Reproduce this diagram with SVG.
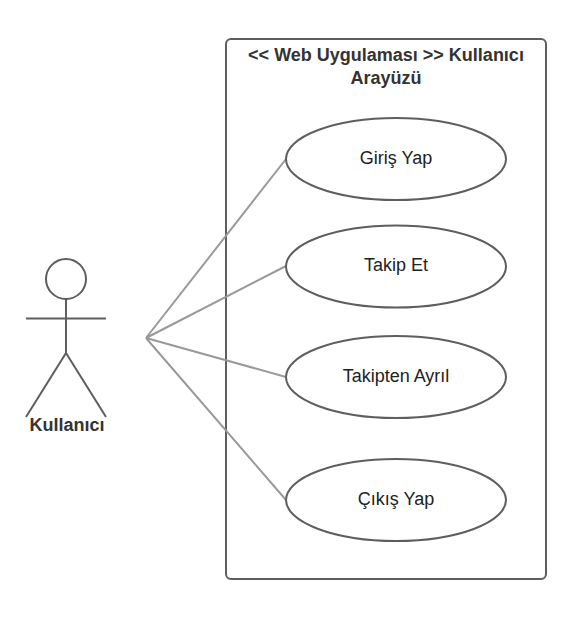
<svg xmlns="http://www.w3.org/2000/svg" width="581" height="625" viewBox="0 0 581 625">
<style>
text{font-family:"Liberation Sans",Arial,sans-serif;text-anchor:middle}
.l{font-size:18px;fill:#222}
.b{font-size:18px;font-weight:bold;fill:#333}
.s{fill:#fff;stroke:#5e5e5e;stroke-width:2}
.a{fill:none;stroke:#5e5e5e;stroke-width:2}
.c{fill:none;stroke:#999;stroke-width:2}
</style>
<rect width="581" height="625" fill="#fff"/>
<g id="system"><rect class="s" x="226" y="39" width="320" height="540" rx="5"/>
<text class="b" x="386" y="61">&lt;&lt; Web Uygulaması &gt;&gt; Kullanıcı</text>
<text class="b" x="386" y="84">Arayüzü</text></g>
<g id="connectors">
<path class="c" d="M146 338L286 159M146 338L286 266M146 338L286 377M146 338L286 500"/>
</g>
<g id="actor"><circle class="a" cx="66" cy="279" r="20"/>
<path class="a" d="M66 299V353M26 318.500H106M66 353L26 417M66 353L106 417"/>
<text class="b" x="67" y="431">Kullanıcı</text></g>
<g id="giris"><ellipse class="s" cx="396" cy="159" rx="110" ry="41"/><text class="l" x="396" y="164">Giriş Yap</text></g>
<g id="takip"><ellipse class="s" cx="396" cy="266.500" rx="110" ry="41"/><text class="l" x="396" y="271">Takip Et</text></g>
<g id="takipten"><ellipse class="s" cx="396" cy="377" rx="110" ry="41"/><text class="l" x="396" y="382">Takipten Ayrıl</text></g>
<g id="cikis"><ellipse class="s" cx="396" cy="500" rx="110" ry="41"/><text class="l" x="396" y="505">Çıkış Yap</text></g>
</svg>
